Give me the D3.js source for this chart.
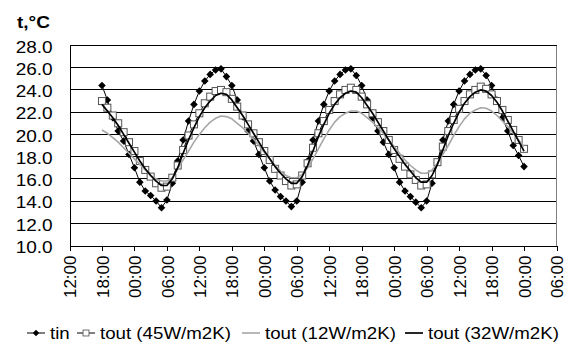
<!DOCTYPE html>
<html>
<head>
<meta charset="utf-8">
<script src="https://cdn.jsdelivr.net/npm/d3@7"></script>
<style>
  body { margin: 0; background: #fff; }
  text { font-family: Arial, "Liberation Sans", sans-serif; fill: #000; }
</style>
</head>
<body>
<div id="chart"></div>
<script>
// x tick labels, every 6 hours starting at 12:00
const tickLabels = ["12:00", "18:00", "00:00", "06:00", "12:00", "18:00", "00:00", "06:00",
  "12:00", "18:00", "00:00", "06:00", "12:00", "18:00", "00:00", "06:00"];
const yTicks = [10, 12, 14, 16, 18, 20, 22, 24, 26, 28];

// hours counted from the first 12:00 tick, one reading per hour (18:00 .. 00:00)
const hours = d3.range(6, 85);

const tin = [
  24.4, 23.1, 21.5, 20.3, 19.4, 18.2, 17.0, 15.7, 14.9, 14.5, 14.0, 13.4, 14.1, 15.6, 17.6, 19.5, 21.2, 22.7, 23.9, 24.8, 25.4, 25.8, 25.9, 25.2,
  24.4, 23.1, 21.6, 20.3, 19.4, 18.2, 17.0, 15.8, 15.0, 14.4, 14.0, 13.5, 14.0, 15.7, 17.6, 19.5, 21.2, 22.7, 23.9, 24.8, 25.4, 25.8, 25.9, 25.3,
  24.4, 23.1, 21.5, 20.3, 19.3, 18.2, 17.0, 15.7, 14.9, 14.4, 13.9, 13.4, 14.0, 15.6, 17.5, 19.5, 21.2, 22.7, 23.9, 24.8, 25.4, 25.8, 25.9, 25.3,
  24.4, 23.1, 21.5, 20.3, 19.0, 18.1, 17.1
];
const tout45 = [
  23.0, 22.4, 21.7, 21.0, 20.2, 19.3, 18.5, 17.6, 16.8, 16.2, 15.6, 15.2, 15.3, 16.1, 17.2, 18.6, 19.9, 20.9, 21.9, 22.8, 23.4, 23.9, 24.0, 23.8,
  23.2, 22.5, 21.7, 20.9, 20.1, 19.3, 18.5, 17.7, 16.9, 16.3, 15.8, 15.4, 15.5, 16.3, 17.4, 18.8, 20.1, 21.2, 22.2, 23.0, 23.6, 24.0, 24.2, 24.0,
  23.4, 22.7, 21.9, 21.1, 20.3, 19.5, 18.6, 17.8, 17.1, 16.4, 15.9, 15.4, 15.5, 16.4, 17.5, 18.9, 20.3, 21.3, 22.3, 23.0, 23.6, 24.0, 24.3, 24.1,
  23.6, 23.0, 22.2, 21.3, 20.4, 19.5, 18.7
];
const tout12 = [
  20.4, 20.1, 19.7, 19.3, 18.8, 18.3, 17.8, 17.3, 16.8, 16.3, 16.0, 15.8, 15.8, 16.1, 16.9, 17.7, 18.5, 19.3, 20.0, 20.6, 21.1, 21.45, 21.65, 21.6,
  21.4, 21.0, 20.6, 20.1, 19.6, 19.0, 18.4, 17.8, 17.2, 16.7, 16.3, 16.1, 16.1, 16.4, 17.0, 17.8, 18.7, 19.6, 20.4, 21.1, 21.6, 21.9, 22.1, 22.1,
  21.9, 21.5, 21.1, 20.6, 20.1, 19.5, 18.9, 18.3, 17.7, 17.2, 16.8, 16.5, 16.5, 16.8, 17.4, 18.2, 19.0, 19.9, 20.7, 21.4, 21.9, 22.2, 22.4, 22.35,
  22.1, 21.7, 21.2, 20.7, 20.1, 19.5, 18.9
];
const tout32 = [
  22.7, 22.1, 21.5, 20.8, 20.0, 19.2, 18.4, 17.6, 16.9, 16.3, 15.8, 15.4, 15.4, 16.0, 17.0, 18.3, 19.5, 20.6, 21.6, 22.4, 23.0, 23.5, 23.7, 23.6,
  23.1, 22.4, 21.7, 20.9, 20.1, 19.3, 18.5, 17.8, 17.1, 16.5, 16.0, 15.6, 15.6, 16.2, 17.2, 18.5, 19.8, 20.9, 21.9, 22.7, 23.3, 23.7, 23.9, 23.8,
  23.3, 22.6, 21.9, 21.1, 20.3, 19.5, 18.7, 18.0, 17.3, 16.7, 16.1, 15.7, 15.7, 16.3, 17.3, 18.6, 19.9, 21.0, 22.0, 22.8, 23.4, 23.8, 24.0, 23.9,
  23.5, 22.9, 22.1, 21.2, 20.3, 19.4, 18.5
];

const series = [
  { name: "tin", values: tin, color: "#000", width: 1, marker: "diamond" },
  { name: "tout (45W/m2K)", values: tout45, color: "#000", width: 1, marker: "square" },
  { name: "tout (12W/m2K)", values: tout12, color: "#a6a6a6", width: 1.6, marker: null },
  { name: "tout (32W/m2K)", values: tout32, color: "#000", width: 1.7, marker: null }
];

const width = 571, height = 356;
const stretch = 1.12; // horizontal text stretch seen in the reference

let svg = d3.select("#chart").append("svg")
  .attr("width", width)
  .attr("height", height);

let x = d3.scaleLinear().domain([0, 90]).range([69.5, 556.5]);
let y = d3.scaleLinear().domain([10, 28]).range([245.5, 45.5]);

// horizontal gridlines
svg.append("g")
  .selectAll("line")
  .data(yTicks.slice(1))
  .enter()
  .append("line")
  .attr("x1", x(0)).attr("x2", x(90))
  .attr("y1", d => y(d)).attr("y2", d => y(d))
  .attr("stroke", "#000")
  .attr("stroke-width", 1)
  .attr("shape-rendering", "crispEdges");

// right border of plot area
svg.append("line")
  .attr("x1", x(90)).attr("x2", x(90))
  .attr("y1", y(28)).attr("y2", y(10))
  .attr("stroke", "#808080")
  .attr("shape-rendering", "crispEdges");

// y axis
let yAxis = svg.append("g")
  .attr("transform", "translate(" + x(0) + ",0)")
  .call(d3.axisLeft(y).tickValues(yTicks).tickSize(0).tickPadding(15).tickFormat(d3.format(".1f")));
yAxis.select(".domain").attr("stroke", "#000").attr("shape-rendering", "crispEdges");
yAxis.selectAll("text")
  .attr("font-size", "17px")
  .attr("font-family", "Arial, 'Liberation Sans', sans-serif")
  .attr("dy", "0.4em")
  .attr("transform", "scale(" + stretch + ",1)");

// x axis
let xAxis = svg.append("g")
  .attr("transform", "translate(0," + y(10) + ")")
  .call(d3.axisBottom(x).tickValues(d3.range(0, 91, 6)).tickSize(5)
    .tickFormat((d, i) => tickLabels[i]));
xAxis.select(".domain").attr("stroke", "#000").attr("shape-rendering", "crispEdges");
xAxis.selectAll(".tick line").attr("stroke", "#000").attr("shape-rendering", "crispEdges");
xAxis.selectAll("text")
  .attr("font-size", "17px")
  .attr("font-family", "Arial, 'Liberation Sans', sans-serif")
  .attr("transform", "rotate(-90)")
  .attr("x", -10)
  .attr("y", 0)
  .attr("dy", "0.36em")
  .style("text-anchor", "end");

// unit label
svg.append("text")
  .attr("transform", "translate(17,28) scale(" + stretch + ",1)")
  .attr("font-size", "17px")
  .attr("font-weight", "bold")
  .text("t,\u00B0C");

let line = d3.line()
  .x((d, i) => x(hours[i]))
  .y(d => y(d));

function drawMarker(sel, type) {
  if (type === "diamond") {
    sel.append("path")
      .attr("d", "M0,-3.8L3.8,0L0,3.8L-3.8,0Z")
      .attr("fill", "#000");
  } else if (type === "square") {
    sel.append("rect")
      .attr("x", -3.5).attr("y", -3.5)
      .attr("width", 7).attr("height", 7)
      .attr("fill", "#fff")
      .attr("stroke", "#555")
      .attr("stroke-width", 1);
  }
}

series.forEach(function (s) {
  let g = svg.append("g");
  g.append("path")
    .datum(s.values)
    .attr("d", line)
    .attr("fill", "none")
    .attr("stroke", s.color)
    .attr("stroke-width", s.width)
    .attr("stroke-linejoin", "round");
  if (s.marker) {
    g.selectAll(".pt")
      .data(s.values)
      .enter()
      .append("g")
      .attr("class", "pt")
      .attr("transform", (d, i) => "translate(" + x(hours[i]) + "," + y(d) + ")")
      .each(function () { drawMarker(d3.select(this), s.marker); });
  }
});

// legend
const legendPos = [27, 77, 242, 405];
let legend = svg.selectAll(".legend")
  .data(series)
  .enter()
  .append("g")
  .attr("class", "legend")
  .attr("transform", (d, i) => "translate(" + legendPos[i] + ",333)");

legend.append("line")
  .attr("x1", 0).attr("x2", 18)
  .attr("y1", 0).attr("y2", 0)
  .attr("stroke", d => d.color)
  .attr("stroke-width", d => d.width);

legend.each(function (d) {
  if (d.marker) {
    drawMarker(d3.select(this).append("g").attr("transform", "translate(9,0) scale(0.85)"), d.marker);
  }
});

legend.append("text")
  .attr("transform", "translate(23,6) scale(1.1,1)")
  .attr("font-size", "17px")
  .text(d => d.name);
</script>
</body>
</html>
